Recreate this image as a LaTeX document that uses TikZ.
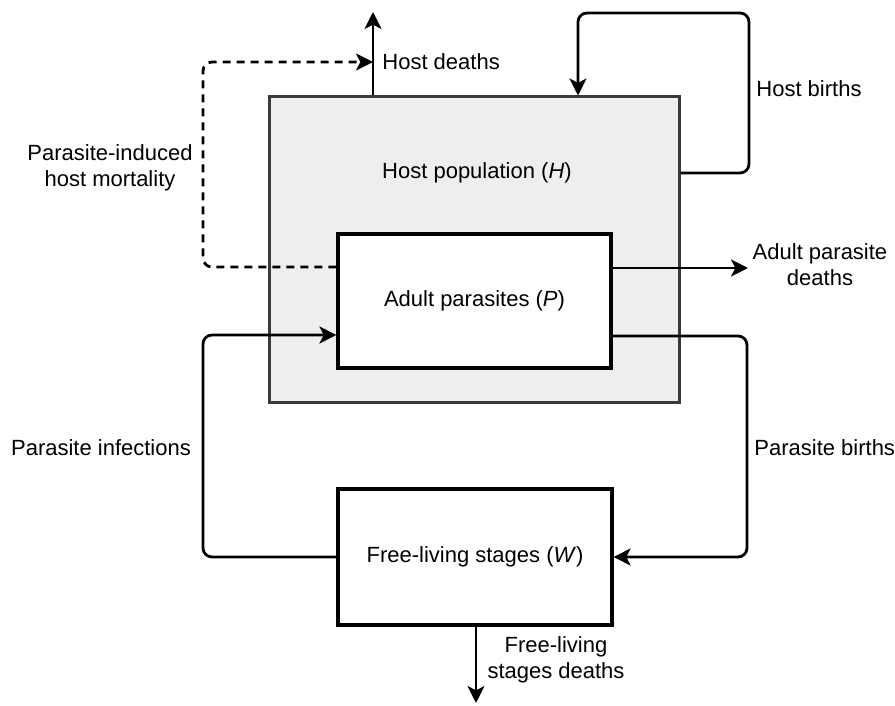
\documentclass[tikz,border=0pt]{standalone}
\usepackage{fontspec}
\setmainfont{Liberation Sans}
\usetikzlibrary{arrows.meta}
\definecolor{hostfill}{HTML}{EEEEEE}
\definecolor{hostdraw}{HTML}{3A3A3A}
\tikzset{
  lbl/.style={font=\fontsize{11}{13}\selectfont, text=black, inner sep=0pt, align=center},
  hostbox/.style={draw=hostdraw, fill=hostfill, line width=1.5pt, minimum width=205pt, minimum height=152.5pt, inner sep=0pt},
  parbox/.style={draw=black, fill=white, line width=1.6pt, inner sep=0pt, font=\fontsize{11}{13}\selectfont},
  arr/.style={draw=black, line width=1.4pt, -{Stealth[length=8.5pt,width=8.5pt,inset=2.2pt]}},
  dashline/.style={dash pattern=on 4pt off 3pt},
  rc/.style={rounded corners=4.5pt}
}
\begin{document}
\begin{tikzpicture}[x=0.5pt,y=-0.5pt]
\useasboundingbox (0,0) rectangle (895,706);
% boxes
\node[hostbox] (host) at (474,249.5) {};
\node[lbl] (hostlabel) at (477,173) {Host population (\textit{H})};
\node[parbox, minimum width=136.5pt, minimum height=67pt] (adult) at (474.5,301) {\raisebox{-1.5pt}{Adult parasites (\textit{P})}};
\node[parbox, minimum width=137pt, minimum height=68pt] (free) at (475,557) {\raisebox{-1.5pt}{Free-living stages (\textit{W})}};
% coordinates for free ends / bends
\coordinate (hdtop) at (373,12);
\coordinate (hbR) at (749,173);
\coordinate (hbT) at (578,13);
\coordinate (dmL) at (203,267);
\coordinate (dmT) at (203,62);
\coordinate (ad) at (748,268);
\coordinate (pb) at (747,336);
\coordinate (pi) at (203,335);
\coordinate (fd) at (476,703);
% connectors
\draw[arr] (hdtop |- host.north) -- (hdtop);
\draw[arr,rc] (hbR -| host.east) -- (hbR) |- (hbT) -- (hbT |- host.north);
\draw[arr,rc,dashline] (dmL -| adult.west) -- (dmL) -- (dmT) -- (dmT -| hdtop);
\draw[arr] (ad -| adult.east) -- (ad);
\draw[arr,rc] (pb -| adult.east) -- (pb) |- (free.east);
\draw[arr,rc] (free.west) -| (pi) -- (pi -| adult.west);
\draw[arr] (free.south -| fd) -- (fd);
% labels
\node[lbl, anchor=west] (lhd) at (382,62) {Host deaths};
\node[lbl, anchor=west] (lhb) at (756,89) {Host births};
\node[lbl] (lpm) at (110,168) {Parasite-induced\\host mortality};
\node[lbl] (lad) at (820,265) {Adult parasite\\deaths};
\node[lbl, anchor=west] (lpb) at (754,448) {Parasite births};
\node[lbl] (lpi) at (101,448) {Parasite infections};
\node[lbl] (lfd) at (556,660) {Free-living\\stages deaths};
\end{tikzpicture}
\end{document}
